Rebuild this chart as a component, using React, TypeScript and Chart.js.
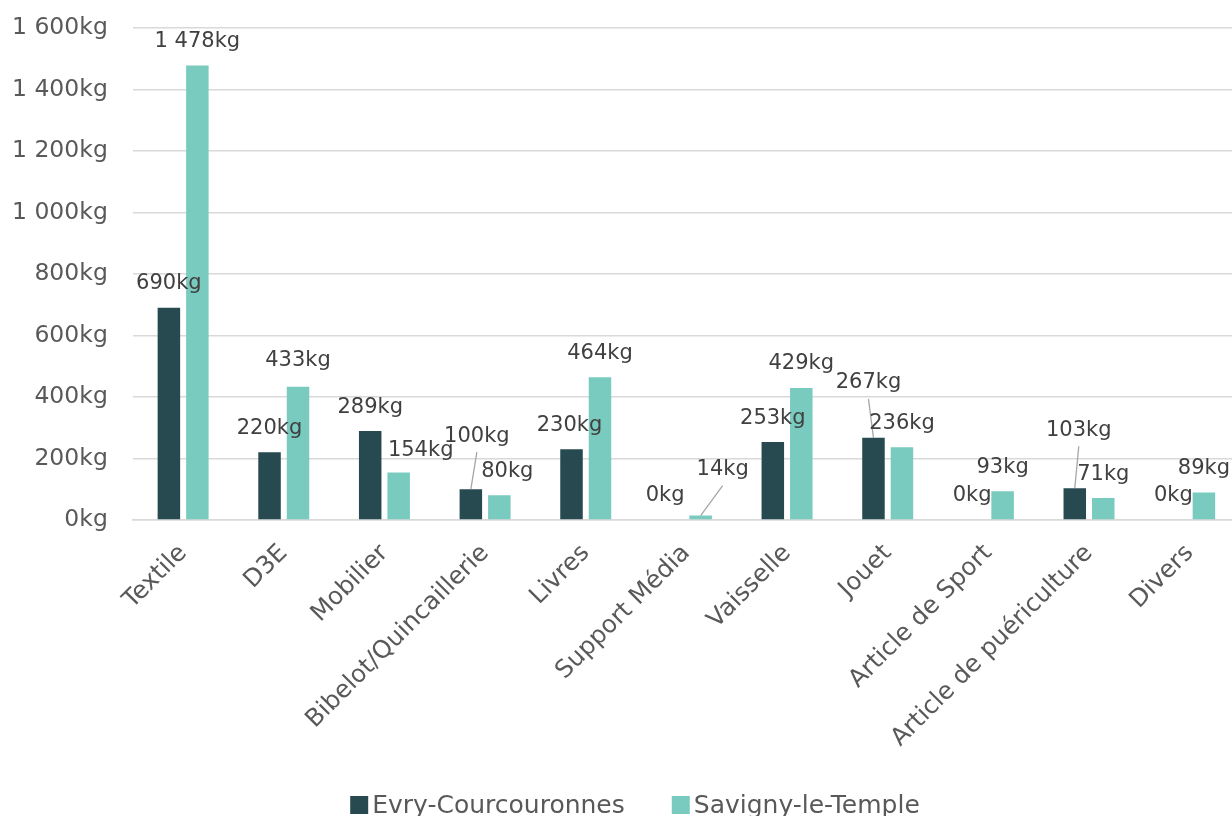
import React, { useEffect, useRef } from 'react';
import { Chart, registerables } from 'chart.js';

Chart.register(...registerables);

const categories = [
  'Textile',
  'D3E',
  'Mobilier',
  'Bibelot/Quincaillerie',
  'Livres',
  'Support Média',
  'Vaisselle',
  'Jouet',
  'Article de Sport',
  'Article de puériculture',
  'Divers',
];
const seriesNames = ['Evry-Courcouronnes', 'Savigny-le-Temple'];
const evryValues = [690, 220, 289, 100, 230, 0, 253, 267, 0, 103, 0];
const savignyValues = [1478, 433, 154, 80, 464, 14, 429, 236, 93, 71, 89];
const yTicks = [0, 200, 400, 600, 800, 1000, 1200, 1400, 1600];

// manual label shifts (dx, dy) in pixels, and whether a leader line is drawn
const evryLabelShift = [[0, 0], [0, 0], [0, 0], [6, -29], [-2, 0], [-7, 0], [0, 0], [-5, -31], [-2, 0], [4, -34], [-2, 0]];
const savignyLabelShift = [[0, 0], [0, -2], [22, 2], [8, 0], [0, 0], [22, -22], [0, 0], [0, 0], [0, 0], [0, 0], [0, 0]];
const evryLeader = [false, false, false, true, false, false, false, true, false, true, false];
const savignyLeader = [false, false, false, false, false, true, false, false, false, false, false];

const COLORS = ['#264A4F', '#78CBBE'];
const FONT = '"DejaVu Sans", "Noto Sans", sans-serif';

const formatKg = (v: number) =>
  String(Math.round(v)).replace(/\B(?=(\d{3})+(?!\d))/g, ' ') + 'kg';

const labelPlugin = {
  id: 'barLabels',
  afterDatasetsDraw(chart: any) {
    const ctx = chart.ctx;
    const shifts = [evryLabelShift, savignyLabelShift];
    const leaders = [evryLeader, savignyLeader];
    ctx.save();
    ctx.font = `21px ${FONT}`;
    ctx.textAlign = 'center';
    ctx.textBaseline = 'middle';
    chart.data.datasets.forEach((ds: any, di: number) => {
      const meta = chart.getDatasetMeta(di);
      meta.data.forEach((bar: any, i: number) => {
        const [dx, dy] = shifts[di][i];
        const lx = bar.x + dx;
        const ly = bar.y - 24 + dy;
        if (leaders[di][i]) {
          ctx.strokeStyle = '#A6A6A6';
          ctx.lineWidth = 1.3;
          ctx.beginPath();
          ctx.moveTo(lx, ly + 16);
          ctx.lineTo(bar.x, bar.y);
          ctx.stroke();
        }
        ctx.fillStyle = '#404040';
        ctx.fillText(formatKg(ds.data[i]), lx, ly);
      });
    });
    ctx.restore();
  },
};

const legendPlugin = {
  id: 'bottomLegend',
  afterDraw(chart: any) {
    const ctx = chart.ctx;
    ctx.save();
    ctx.font = `25px ${FONT}`;
    ctx.textBaseline = 'middle';
    ctx.textAlign = 'left';
    const box = 18;
    const boxGap = 4;
    const itemGap = 47;
    const items = chart.data.datasets.map((ds: any) => ({
      text: ds.label,
      color: ds.backgroundColor,
      w: box + boxGap + ctx.measureText(ds.label).width,
    }));
    const total = items.reduce((s: number, it: any) => s + it.w, 0) + itemGap * (items.length - 1);
    let x = 635 - total / 2;
    const y = 805;
    items.forEach((it: any) => {
      ctx.fillStyle = it.color;
      ctx.fillRect(x, y - box / 2, box, box);
      ctx.fillStyle = '#595959';
      ctx.fillText(it.text, x + box + boxGap, y + 1);
      x += it.w + itemGap;
    });
    ctx.restore();
  },
};

export default function App() {
  const ref = useRef<HTMLCanvasElement | null>(null);

  useEffect(() => {
    document.body.style.margin = '0';
    const canvas = ref.current;
    if (!canvas) return;
    const chart = new Chart(canvas, {
      type: 'bar',
      data: {
        labels: categories,
        datasets: [
          {
            label: seriesNames[0],
            data: evryValues,
            backgroundColor: COLORS[0],
            categoryPercentage: 0.566,
            barPercentage: 0.79,
          },
          {
            label: seriesNames[1],
            data: savignyValues,
            backgroundColor: COLORS[1],
            categoryPercentage: 0.566,
            barPercentage: 0.79,
          },
        ],
      },
      options: {
        animation: false,
        responsive: false,
        maintainAspectRatio: false,
        layout: { padding: { left: 12, top: 28, right: 0, bottom: 44 } },
        plugins: {
          legend: { display: false },
          tooltip: { enabled: false },
        },
        scales: {
          x: {
            grid: { display: false, drawTicks: false },
            border: { color: '#D9D9D9', width: 1.5 },
            ticks: {
              minRotation: 45,
              maxRotation: 45,
              autoSkip: false,
              padding: 19,
              color: '#595959',
              font: { family: FONT, size: 24.5 },
            },
          },
          y: {
            min: 0,
            max: 1600,
            afterBuildTicks: (axis: any) => {
              axis.ticks = yTicks.map((v) => ({ value: v }));
            },
            grid: {
              color: '#D9D9D9',
              lineWidth: 1.5,
              drawTicks: true,
              tickLength: 25,
              tickColor: 'rgba(0,0,0,0)',
            },
            border: { display: false },
            ticks: {
              padding: 0,
              color: '#595959',
              font: { family: FONT, size: 23.5 },
              callback: (v: any) => formatKg(Number(v)),
            },
          },
        },
      },
      plugins: [labelPlugin, legendPlugin],
    });
    return () => chart.destroy();
  }, []);

  return (
    <div style={{ position: 'absolute', left: 0, top: 0, width: 1232, height: 816, overflow: 'hidden', background: '#fff' }}>
      <canvas ref={ref} width={1240} height={816} style={{ width: 1240, height: 816, display: 'block' }} />
    </div>
  );
}
